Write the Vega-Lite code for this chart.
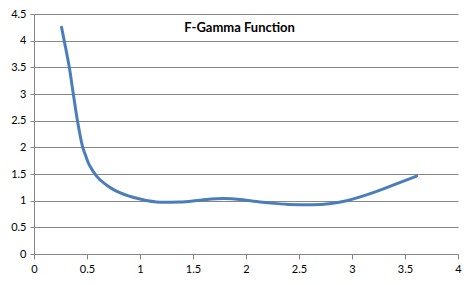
{
  "$schema": "https://vega.github.io/schema/vega-lite/v6.json",
  "width": 424,
  "height": 240,
  "autosize": "none",
  "padding": {"left": 34, "top": 14, "right": 18, "bottom": 31},
  "background": "white",
  "encoding": {
    "x": {
      "field": "x", "type": "quantitative",
      "scale": {"domain": [0, 4], "nice": false, "zero": true},
      "axis": {
        "title": null, "values": [0, 0.5, 1, 1.5, 2, 2.5, 3, 3.5, 4], "format": "~g",
        "grid": false, "domainColor": "#868686", "tickColor": "#868686", "tickSize": 5,
        "labelFont": "Lato", "labelFontSize": 11, "labelColor": "black", "labelPadding": 4,
        "labelFlush": false
      }
    },
    "y": {
      "field": "y", "type": "quantitative",
      "scale": {"domain": [0, 4.5], "nice": false},
      "axis": {
        "title": null, "values": [0, 0.5, 1, 1.5, 2, 2.5, 3, 3.5, 4, 4.5], "format": "~g",
        "grid": true, "gridColor": "#868686", "gridWidth": 1,
        "domainColor": "#868686", "tickColor": "#868686", "tickSize": 4,
        "labelFont": "Lato", "labelFontSize": 11, "labelColor": "black", "labelPadding": 4,
        "labelFlush": false
      }
    }
  },
  "layer": [
    {
      "data": {
        "values": [
          {"x": 0.26, "y": 4.25},
          {"x": 0.30, "y": 3.85},
          {"x": 0.333, "y": 3.5},
          {"x": 0.371, "y": 3.0},
          {"x": 0.41, "y": 2.5},
          {"x": 0.46, "y": 2.0},
          {"x": 0.49, "y": 1.83},
          {"x": 0.51, "y": 1.72},
          {"x": 0.53, "y": 1.64},
          {"x": 0.59, "y": 1.46},
          {"x": 0.686, "y": 1.29},
          {"x": 0.81, "y": 1.15},
          {"x": 1.0, "y": 1.03},
          {"x": 1.19, "y": 0.97},
          {"x": 1.38, "y": 0.975},
          {"x": 1.57, "y": 1.01},
          {"x": 1.79, "y": 1.04},
          {"x": 2.0, "y": 1.01},
          {"x": 2.2, "y": 0.96},
          {"x": 2.4, "y": 0.93},
          {"x": 2.63, "y": 0.925},
          {"x": 2.95, "y": 1.0},
          {"x": 3.2, "y": 1.15},
          {"x": 3.4, "y": 1.3},
          {"x": 3.61, "y": 1.46}
        ]
      },
      "mark": {"type": "line", "interpolate": "monotone", "color": "#4A7EBB", "strokeWidth": 3, "strokeCap": "round"}
    },
    {
      "data": {"values": [{"label": "F-Gamma Function", "x": 1.94, "y": 4.24}]},
      "mark": {"type": "text", "font": "Lato", "fontSize": 13, "fontWeight": "bold", "color": "black", "align": "center", "baseline": "middle"},
      "encoding": {
        "text": {"field": "label"}
      }
    }
  ],
  "config": {"view": {"stroke": null}}
}
